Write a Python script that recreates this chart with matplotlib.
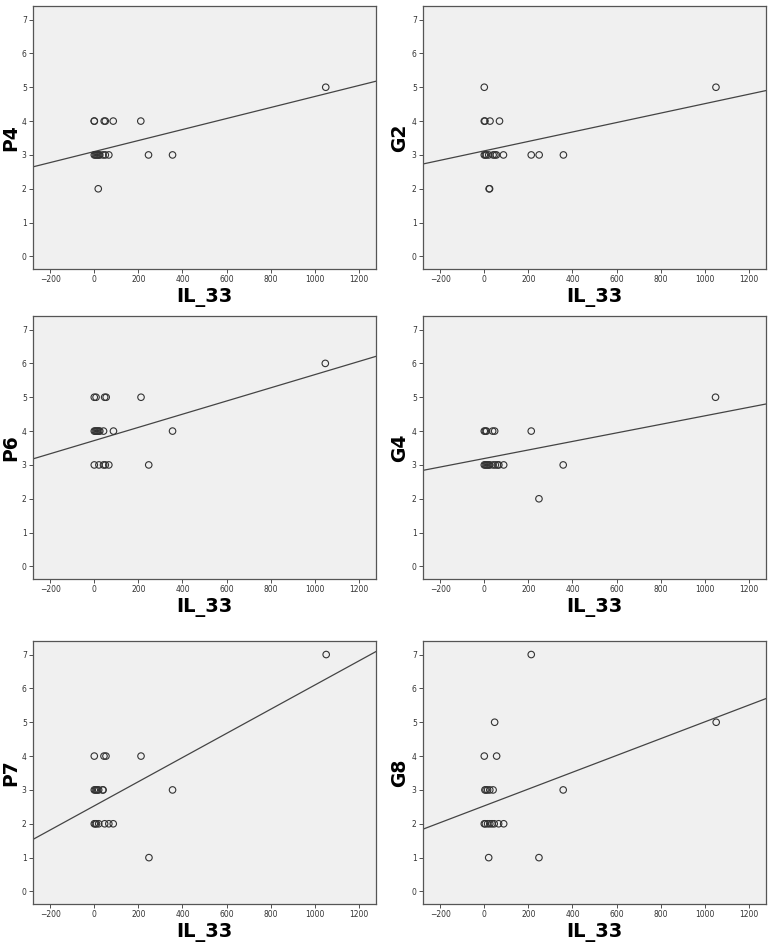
import numpy as np
import matplotlib.pyplot as plt

# IL_33 against six scores
p4_x = [0, 0, 45, 50, 86, 211, 0, 5, 10, 15, 20, 25, 40, 50, 66, 246, 355, 18, 1050]
p4_y = [4, 4, 4, 4, 4, 4, 3, 3, 3, 3, 3, 3, 3, 3, 3, 3, 3, 2, 5]

g2_x = [0, 1051, 0, 3, 26, 69, 0, 5, 10, 20, 40, 48, 55, 87, 213, 249, 359, 22, 24]
g2_y = [5, 5, 4, 4, 4, 4, 3, 3, 3, 3, 3, 3, 3, 3, 3, 3, 3, 2, 2]

p6_x = [1048, 0, 8, 47, 54, 212, 0, 5, 10, 15, 20, 25, 42, 87, 355, 0, 21, 42, 50, 66, 247]
p6_y = [6, 5, 5, 5, 5, 5, 4, 4, 4, 4, 4, 4, 4, 4, 4, 3, 3, 3, 3, 3, 3]

g4_x = [1049, 0, 5, 10, 38, 47, 213, 0, 5, 10, 15, 20, 25, 40, 50, 60, 66, 88, 358, 248]
g4_y = [5, 4, 4, 4, 4, 4, 4, 3, 3, 3, 3, 3, 3, 3, 3, 3, 3, 3, 3, 2]

p7_x = [1052, 0, 44, 53, 212, 0, 5, 10, 15, 20, 38, 40, 355, 0, 5, 10, 20, 47, 66, 86, 248]
p7_y = [7, 4, 4, 4, 4, 3, 3, 3, 3, 3, 3, 3, 3, 2, 2, 2, 2, 2, 2, 2, 1]

g8_x = [213, 47, 1052, 0, 56, 3, 8, 15, 25, 40, 358, 0, 5, 15, 25, 35, 45, 65, 88, 20, 248]
g8_y = [7, 5, 5, 4, 4, 3, 3, 3, 3, 3, 3, 2, 2, 2, 2, 2, 2, 2, 2, 1, 1]

# fit lines as drawn in the reference (intercept, slope)
fit_a = [3.10, 3.12, 3.72, 3.19, 2.53, 2.53]
fit_b = [0.001626, 0.001394, 0.001947, 0.00126, 0.003567, 0.00248]

names = ['P4', 'G2', 'P6', 'G4', 'P7', 'G8']
xs = [p4_x, g2_x, p6_x, g4_x, p7_x, g8_x]
ys = [p4_y, g2_y, p6_y, g4_y, p7_y, g8_y]

W, H = 773, 946
fig = plt.figure(figsize=(W / 100, H / 100), dpi=100)

lefts = [33, 423]
ylab_x = [11, 400]   # centre of the y label, pixels
tops = [6, 316, 641]
aw, ah = 343, 263

xlim = (-278, 1278)
for i, name in enumerate(names):
    col, row = i % 2, i // 2
    l = lefts[col]
    t = tops[row]
    ax = fig.add_axes([l / W, (H - t - ah) / H, aw / W, ah / H])
    ax.set_facecolor('#f0f0f0')
    ax.scatter(xs[i], ys[i], s=22, facecolors='none', edgecolors='#333333', linewidths=0.8, zorder=3)
    lx = np.array(xlim)
    ax.plot(lx, fit_a[i] + fit_b[i] * lx, color='#444444', lw=0.9, zorder=2)
    ax.set_xlim(xlim)
    ax.set_ylim(-0.37, 7.4)
    ax.set_xticks(range(-200, 1201, 200))
    ax.set_yticks(range(0, 8))
    ax.tick_params(labelsize=5.5, colors='#333333', length=3, width=0.6, pad=1.5)
    for s in ax.spines.values():
        s.set_color('#555555')
        s.set_linewidth(0.9)
    ax.set_xlabel('IL_33', fontsize=14, fontweight='bold', labelpad=3)
    ax.set_ylabel(name, fontsize=13.5, fontweight='bold', va='center')
    ax.yaxis.set_label_coords((ylab_x[col] - l) / aw, 0.5)

plt.savefig('out.png', dpi=100)
